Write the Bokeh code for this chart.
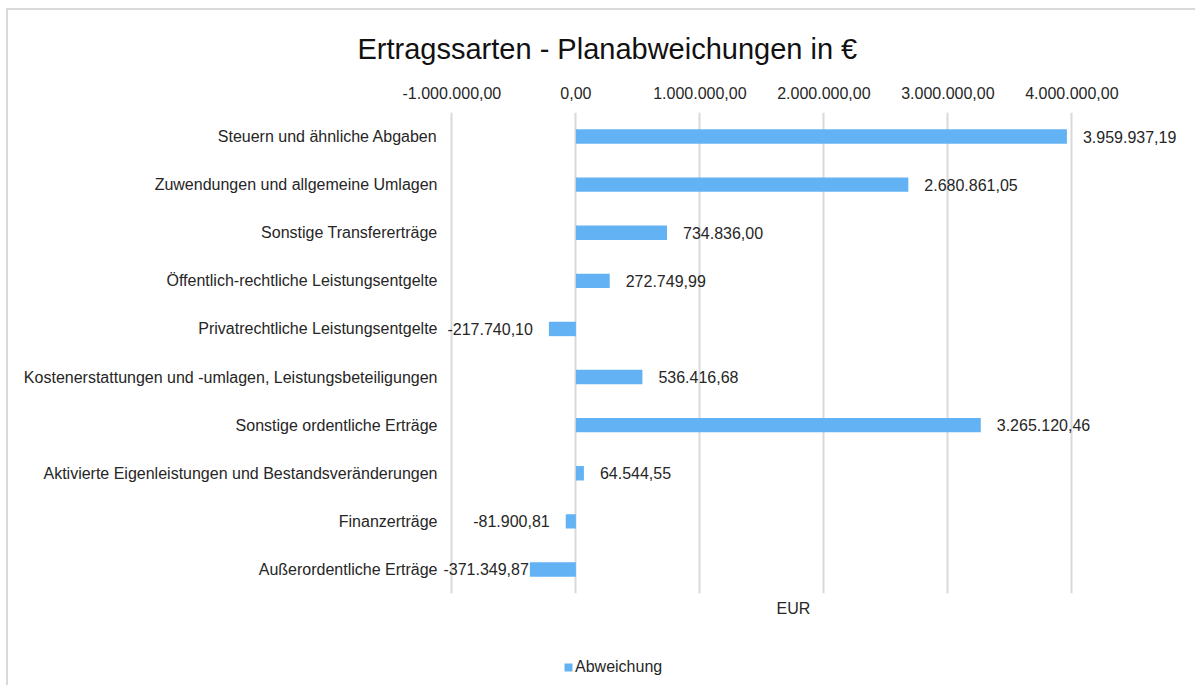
from bokeh.plotting import figure
from bokeh.layouts import column
from bokeh.models import (FactorRange, Range1d, ColumnDataSource, LabelSet, Title,
                          Legend, LegendItem, CustomJSTickFormatter, FixedTicker)
from bokeh.core.properties import value
from bokeh.embed import file_html
from bokeh.resources import INLINE

categories = [
    "Steuern und ähnliche Abgaben",
    "Zuwendungen und allgemeine Umlagen",
    "Sonstige Transfererträge",
    "Öffentlich-rechtliche Leistungsentgelte",
    "Privatrechtliche Leistungsentgelte",
    "Kostenerstattungen und -umlagen, Leistungsbeteiligungen",
    "Sonstige ordentliche Erträge",
    "Aktivierte Eigenleistungen und Bestandsveränderungen",
    "Finanzerträge",
    "Außerordentliche Erträge",
]
values = [3959937.19, 2680861.05, 734836.00, 272749.99, -217740.10,
          536416.68, 3265120.46, 64544.55, -81900.81, -371349.87]
ticks = [-1000000, 0, 1000000, 2000000, 3000000, 4000000]
series_name = "Abweichung"
title_text = "Ertragssarten - Planabweichungen in €"
axis_title = "EUR"

FONT = "Liberation Sans"
BAR = "#63B3F4"
TXT = "#262626"


def de_fmt(v):
    s = f"{abs(v):,.2f}".replace(",", "X").replace(".", ",").replace("X", ".")
    return ("-" if v < 0 else "") + s


labels = [de_fmt(v) for v in values]
offsets = [16 if v >= 0 else (-16 if v > -300000 else -1) for v in values]
aligns = ["left" if v >= 0 else "right" for v in values]

src = ColumnDataSource(dict(cat=categories, val=values))

p = figure(width=1187, height=615, output_backend="svg", toolbar_location=None,
           y_range=FactorRange(factors=list(reversed(categories))),
           x_range=Range1d(-1100000, 4900000),
           x_axis_location="above",
           min_border_left=431, min_border_right=12,
           min_border_top=102, min_border_bottom=32)

r = p.hbar(y="cat", left=0, right="val", height=0.3, source=src,
           fill_color=BAR, line_color=None)

p.outline_line_color = None
p.ygrid.grid_line_color = None
p.xgrid.grid_line_color = "#d9d9d9"
p.xgrid.grid_line_width = 2
p.xgrid.ticker = FixedTicker(ticks=ticks)

xa = p.xaxis[0]
xa.ticker = FixedTicker(ticks=ticks)
xa.formatter = CustomJSTickFormatter(code="""
const s = Math.abs(tick).toFixed(2).split('.');
const i = s[0].replace(/\\B(?=(\\d{3})+(?!\\d))/g, '.');
return (tick < 0 ? '-' : '') + i + ',' + s[1];
""")
xa.axis_line_color = None
xa.major_tick_line_color = None
xa.minor_tick_line_color = None
xa.major_tick_out = 0
xa.major_label_standoff = 14
xa.major_label_text_font = FONT
xa.major_label_text_font_size = "16px"
xa.major_label_text_color = TXT

ya = p.yaxis[0]
ya.axis_line_color = None
ya.major_tick_line_color = None
ya.minor_tick_line_color = None
ya.major_tick_out = 0
ya.major_label_standoff = 2
ya.major_label_text_font = FONT
ya.major_label_text_font_size = "16px"
ya.major_label_text_color = TXT

for al in ["left", "right"]:
    sub = ColumnDataSource(dict(
        cat=[c for c, a in zip(categories, aligns) if a == al],
        val=[v for v, a in zip(values, aligns) if a == al],
        lab=[l for l, a in zip(labels, aligns) if a == al],
        off=[o for o, a in zip(offsets, aligns) if a == al]))
    p.add_layout(LabelSet(x="val", y="cat", text="lab", x_offset="off", source=sub,
                          text_align=al, text_baseline="middle",
                          text_font=value(FONT), text_font_size=value("16px"),
                          text_color=TXT))

p.title = Title(text=title_text, align="left", offset=-82, standoff=37,
                text_font=FONT, text_font_size="29px", text_font_style="normal",
                text_color="#111111")

p.add_layout(Title(text=axis_title, align="left", offset=337, standoff=8,
                   text_font=FONT, text_font_size="16px", text_font_style="normal",
                   text_color=TXT), "below")

# legend strip
p2 = figure(width=1187, height=60, output_backend="svg", toolbar_location=None,
            x_range=Range1d(-1100000, 4900000),
            y_range=FactorRange(factors=list(reversed(categories))),
            x_axis_type=None, y_axis_type=None,
            min_border_left=431, min_border_right=12, min_border_top=22,
            min_border_bottom=0)
p2.outline_line_color = None
p2.xgrid.visible = False
p2.ygrid.visible = False
r2 = p2.hbar(y="cat", left=0, right="val", height=0.3, source=src,
             fill_color=BAR, line_color=None, visible=False)
leg = Legend(items=[LegendItem(label=series_name, renderers=[r2])],
             location=(124, 9), orientation="horizontal",
             glyph_width=10, glyph_height=10, label_standoff=2, padding=0, margin=0,
             spacing=0, border_line_color=None, background_fill_alpha=0,
             label_text_font=FONT, label_text_font_size="16px", label_text_color=TXT)
p2.add_layout(leg, "center")

layout = column(p, p2, spacing=0)
layout.styles = {"border-top": "2px solid #d9d9d9", "border-left": "2px solid #d9d9d9",
                 "margin-left": "6px", "margin-top": "8px"}

open("out.html", "w").write(file_html(layout, INLINE))
